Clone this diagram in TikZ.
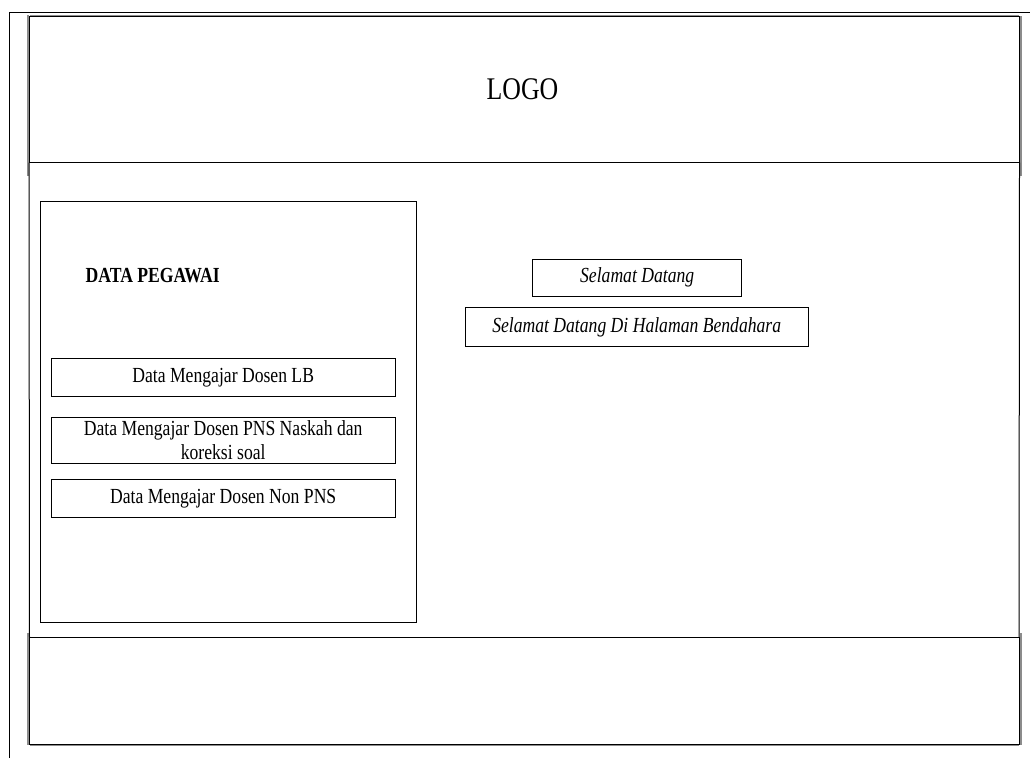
\documentclass[tikz,border=0pt]{standalone}
\usepackage{fontspec}
\setmainfont{Liberation Serif}[FakeStretch=0.82]
\begin{document}
\begin{tikzpicture}[x=1pt,y=-1pt,
  frame/.style={draw=black,line width=1pt},
  shade/.style={draw=black!45,line width=2pt},
  box/.style={draw=black,line width=0.9pt,inner sep=0pt,align=center,
    font=\fontsize{21.5}{24}\selectfont},
  lbl/.style={inner sep=0pt,font=\fontsize{21.5}{24}\selectfont}]
\useasboundingbox (0,0) rectangle (1035,758);
\fill[white] (0,0) rectangle (1035,758);
% outer page edges
\draw[frame] (9.5,758) -- (9.5,12) -- (1030,12);
% shadows
\draw[shade] (28,15) -- (28,176);
\draw[shade] (29.5,15.5) -- (1019,15.5);
\draw[shade] (1020.5,16) -- (1020.5,176);
\draw[shade] (28,633) -- (28,745);
\draw[shade] (1020.5,633) -- (1020.5,745);
\draw[shade] (29.5,744.5) -- (1019,744.5);
% header
\node[frame,minimum width=989.5pt,minimum height=146pt,inner sep=0pt] (header) at (524.25,89) {};
\node[inner sep=0pt,font=\fontsize{31.5}{34}\selectfont] (logo) at (522.5,89) {LOGO};
% body side lines
\coordinate (bl) at (29.5,637);
\coordinate (br) at (1019,637);
\draw[frame] (header.south west) -- (bl);
\draw[frame] (header.south east) -- (br);
% footer
\node[frame,minimum width=989.5pt,minimum height=107pt,inner sep=0pt] (footer) at (524.25,690.5) {};
% left panel
\node[draw=black,line width=0.9pt,minimum width=376.7pt,minimum height=421.7pt,inner sep=0pt] (panel) at (228.35,411.85) {};
\node[lbl,font=\fontsize{21.5}{24}\selectfont\bfseries,anchor=west] (title) at (85.5,276) {DATA PEGAWAI};
\node[box,minimum width=343.7pt,minimum height=37.7pt] (lb) at (223.2,377.2) {Data Mengajar Dosen LB};
\node[box,minimum width=343.7pt,minimum height=46pt] (pns) at (223.2,440.3) {Data Mengajar Dosen PNS Naskah dan\\koreksi soal};
\node[box,minimum width=343.7pt,minimum height=38pt] (non) at (223.2,498.3) {Data Mengajar Dosen Non PNS};
% welcome boxes
\node[box,minimum width=209pt,minimum height=36.7pt,font=\fontsize{21.5}{24}\selectfont\itshape] (sd) at (637.2,277.7) {Selamat Datang};
\node[box,minimum width=343.3pt,minimum height=39.4pt,font=\fontsize{21.5}{24}\selectfont\itshape] (sdb) at (636.7,327) {Selamat Datang Di Halaman Bendahara};
\end{tikzpicture}
\end{document}
